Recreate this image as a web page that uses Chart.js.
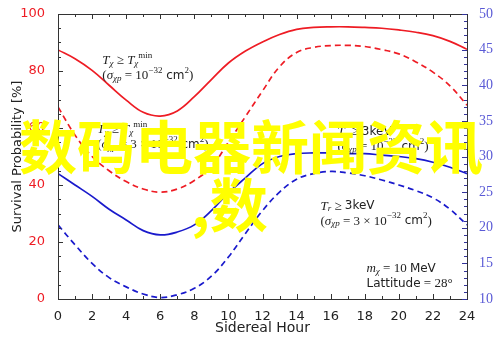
<!DOCTYPE html>
<html>
<head>
<meta charset="utf-8">
<script src="https://cdn.jsdelivr.net/npm/chart.js@4"></script>
<style>
  html, body { margin: 0; padding: 0; background: #fff; }
  #chart { display: block; }
</style>
</head>
<body>
<canvas id="chart" width="500" height="341"></canvas>
<script>
// sidereal hours
const hours = [0,1,2,3,4,5,6,7,8,9,10,11,12,13,14,15,16,17,18,19,20,21,22,23,24];

// red curves, left axis (survival probability %)
const redSolid  = [87.4,84.3,80.2,75.0,69.8,65.5,64.2,66.0,71.0,77.0,82.8,87.0,90.2,92.8,94.6,95.3,95.5,95.5,95.3,95.0,94.4,93.6,92.4,90.4,87.6];
const redDashed = [67.4,57.5,50.0,45.0,41.2,38.6,37.5,38.6,41.6,46.4,55.0,64.0,73.0,81.5,86.5,88.3,88.9,89.0,88.6,87.5,86.0,83.2,79.6,74.8,68.0];

// blue curves, right axis
const blueSolid  = [27.6,26.0,24.4,22.6,21.1,19.6,19.0,19.4,20.4,22.4,24.9,27.0,29.0,30.0,30.4,30.5,30.5,30.4,30.4,30.2,30.0,29.7,29.2,28.5,27.6];
const blueDashed = [20.4,17.6,15.0,13.0,11.7,10.7,10.2,10.6,11.5,13.2,15.9,19.2,22.4,25.0,26.8,27.6,27.9,27.7,27.3,26.7,26.0,25.2,24.2,22.6,20.4];

const leftTicks = [0,20,40,60,80,100];
const rightTicks = [10,15,20,25,30,35,40,45,50];

const RED = '#ee1c24';
const BLUE = '#1a1acc';

function pts(arr) {
  return hours.map((h, i) => ({x: h, y: arr[i]}));
}

// annotation text: [x hour, y left value, lines]
const notes = [
  [2.6, 83.5, [
    [['T','i'],['χ','sub'],[' ≥ ','m'],['T','i'],['χ','sub'],['min','sup']],
    [['(','m'],['σ','i'],['χp','sub'],[' = 10','m'],['−32','sup'],[' cm','r'],['2','sup'],[')','m']]
  ]],
  [2.3, 59.3, [
    [['T','i'],['χ','sub'],[' ≥ ','m'],['T','i'],['χ','sub'],['min','sup']],
    [['(','m'],['σ','i'],['χp','sub'],[' = 3 × 10','m'],['−32','sup'],[' cm','r'],['2','sup'],[')','m']]
  ]],
  [16.4, 58.6, [
    [['T','i'],['r','sub'],[' ≥ ','m'],['3keV','r']],
    [['(','m'],['σ','i'],['χp','sub'],[' = 10','m'],['−32','sup'],[' cm','r'],['2','sup'],[')','m']]
  ]],
  [15.4, 32.6, [
    [['T','i'],['r','sub'],[' ≥ ','m'],['3keV','r']],
    [['(','m'],['σ','i'],['χp','sub'],[' = 3 × 10','m'],['−32','sup'],[' cm','r'],['2','sup'],[')','m']]
  ]],
  [18.1, 10.5, [
    [['m','i'],['χ','sub'],[' = 10 ','m'],['MeV','r']],
    [['Lattitude','r'],[' = 28°','m']]
  ]]
];

function drawRich(ctx, x, y, parts) {
  let cx = x;
  parts.forEach(([t, s]) => {
    let dy = 0;
    if (s === 'i') ctx.font = 'italic 13px "Liberation Serif"';
    else if (s === 'm') ctx.font = '13px "Liberation Serif"';
    else if (s === 'r') ctx.font = '12px "DejaVu Sans"';
    else if (s === 'sub') { ctx.font = 'italic 9px "Liberation Serif"'; dy = 3; }
    else if (s === 'sup') { ctx.font = '9px "Liberation Serif"'; dy = -5; }
    ctx.fillText(t, cx, y + dy);
    cx += ctx.measureText(t).width;
  });
}

const framePlugin = {
  id: 'frame',
  afterDatasetsDraw(chart) {
    const ctx = chart.ctx;
    const a = chart.chartArea;
    const xs = chart.scales.x, yl = chart.scales.y, yr = chart.scales.y2;
    ctx.save();
    ctx.strokeStyle = '#333';
    ctx.lineWidth = 1;
    ctx.strokeRect(a.left + 0.5, a.top + 0.5, a.right - a.left, a.bottom - a.top);
    ctx.beginPath();
    for (let h = 0; h <= 24; h++) {
      const px = Math.round(xs.getPixelForValue(h)) + 0.5;
      const len = h % 2 === 0 ? 5 : 3;
      ctx.moveTo(px, a.bottom); ctx.lineTo(px, a.bottom - len);
      ctx.moveTo(px, a.top); ctx.lineTo(px, a.top + len);
    }
    for (let v = 0; v <= 100; v += 5) {
      const py = Math.round(yl.getPixelForValue(v)) + 0.5;
      const len = v % 20 === 0 ? 5 : 3;
      ctx.moveTo(a.left, py); ctx.lineTo(a.left + len, py);
    }
    ctx.stroke();
    ctx.strokeStyle = '#33339a';
    ctx.beginPath();
    for (let v = 10; v <= 50; v++) {
      const py = Math.round(yr.getPixelForValue(v)) + 0.5;
      const len = v % 5 === 0 ? 5 : 3;
      ctx.moveTo(a.right, py); ctx.lineTo(a.right - len, py);
    }
    ctx.stroke();

    // annotations
    ctx.fillStyle = '#222';
    ctx.textBaseline = 'middle';
    notes.forEach(([h, v, lines]) => {
      const x = xs.getPixelForValue(h);
      const y = yl.getPixelForValue(v);
      lines.forEach((ln, i) => drawRich(ctx, x, y + i * 15, ln));
    });
    ctx.restore();
  },
  afterDraw(chart) {
    const ctx = chart.ctx;
    ctx.save();
    ctx.fillStyle = '#ffff00';
    ctx.textBaseline = 'middle';
    ctx.font = 'bold 58px "Noto Sans CJK SC"';
    ctx.fillText('数码电器新闻资讯', 19, 147);
    ctx.fillText(',数', 191, 205);
    ctx.restore();
  }
};

const ctx = document.getElementById('chart');
new Chart(ctx, {
  type: 'line',
  data: {
    datasets: [
      { data: pts(redSolid), borderColor: RED, borderWidth: 1.7, yAxisID: 'y' },
      { data: pts(redDashed), borderColor: RED, borderWidth: 1.7, borderDash: [6, 4], yAxisID: 'y' },
      { data: pts(blueSolid), borderColor: BLUE, borderWidth: 1.7, yAxisID: 'y2' },
      { data: pts(blueDashed), borderColor: BLUE, borderWidth: 1.7, borderDash: [6, 4], yAxisID: 'y2' }
    ]
  },
  options: {
    responsive: false,
    animation: false,
    layout: { padding: { top: 14 } },
    elements: { point: { radius: 0 }, line: { tension: 0.4 } },
    plugins: { legend: { display: false }, tooltip: { enabled: false } },
    scales: {
      x: {
        type: 'linear', min: 0, max: 24,
        grid: { display: false },
        border: { display: false },
        ticks: { stepSize: 2, padding: 2, color: '#222', font: { family: 'DejaVu Sans', size: 13 }, maxRotation: 0 },
        title: { display: true, text: 'Sidereal Hour', color: '#222', font: { family: 'DejaVu Sans', size: 14 }, padding: { top: 0, bottom: 4 } },
        afterFit(s) { s.height = 42; }
      },
      y: {
        position: 'left', min: 0, max: 100,
        grid: { display: false },
        border: { display: false },
        afterBuildTicks(s) { s.ticks = leftTicks.map(v => ({value: v})); },
        ticks: { padding: 5, color: RED, font: { family: 'DejaVu Sans', size: 13 } },
        title: { display: true, text: 'Survival Probability [%]', color: '#222', font: { family: 'DejaVu Sans', size: 13 }, padding: { top: 10, bottom: 0 } },
        afterFit(s) { s.width = 58; }
      },
      y2: {
        position: 'right', min: 10, max: 50,
        grid: { display: false },
        border: { display: false },
        afterBuildTicks(s) { s.ticks = rightTicks.map(v => ({value: v})); },
        ticks: { padding: 4, color: '#5a5ad6', font: { family: 'Liberation Serif', size: 14 } },
        afterFit(s) { s.width = 33; }
      }
    }
  },
  plugins: [framePlugin]
});
</script>
</body>
</html>
